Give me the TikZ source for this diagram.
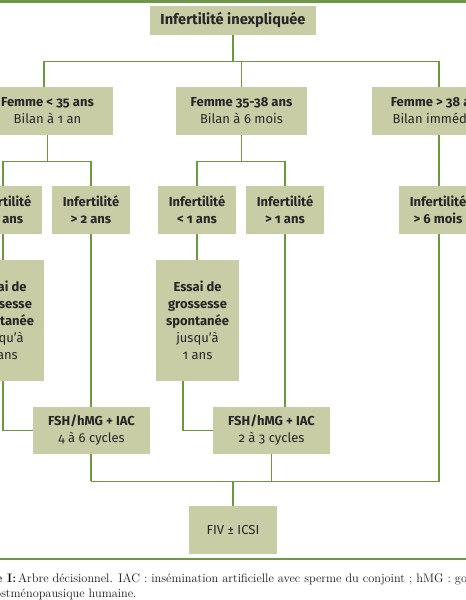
\documentclass[tikz,border=0pt]{standalone}
\usepackage{fontspec}
\setmainfont{Latin Modern Roman}
\newfontfamily\boxfont[Numbers=OldStyle]{Fira Sans}
\usetikzlibrary{calc}
\definecolor{boxfill}{RGB}{201,205,166}
\definecolor{linegreen}{RGB}{108,152,62}
\definecolor{rulegreen}{RGB}{112,150,72}
\tikzset{
  box/.style={fill=boxfill, draw=none, align=center, inner sep=0pt,
    font=\boxfont\fontsize{13}{17}\selectfont, text=black!85},
  boldbox/.style={box, font=\boxfont\fontsize{13}{17}\selectfont\bfseries},
  conn/.style={draw=linegreen, line width=1.3pt},
  rulestyle/.style={draw=rulegreen},
  captext/.style={anchor=base west, inner sep=0pt, font=\fontsize{12.3}{15}\selectfont, text=black!90},
}
\begin{document}
\begin{tikzpicture}[x=1pt,y=-1pt]
\useasboundingbox (0,0) rectangle (466,600);
\clip (0,0) rectangle (466,600);
\fill[white] (0,0) rectangle (466,600);
\draw[rulestyle, line width=2.6pt] (0,1.6) -- (466,1.6);
\draw[rulestyle, line width=1.6pt] (0,559) -- (466,559);
% nodes
\node[box, minimum width=166pt, minimum height=29pt, font=\boxfont\fontsize{14.6}{17}\selectfont\bfseries] (root) at (233,20.5) {Infertilité inexpliquée};
\node[box, minimum width=131pt, minimum height=48pt] (F1) at (47.5,111) {\textbf{Femme < 35 ans}\\Bilan à 1 an};
\node[box, minimum width=131pt, minimum height=48pt] (F2) at (241.5,111) {\textbf{Femme 35-38 ans}\\Bilan à 6 mois};
\node[box, minimum width=131pt, minimum height=48pt] (F3) at (437.5,111) {\textbf{Femme > 38 ans}\\Bilan immédiat};
\node[boldbox, minimum width=78pt, minimum height=48pt] (I1a) at (3,210) {Infertilité\\< 2 ans};
\node[boldbox, minimum width=78pt, minimum height=48pt] (I1b) at (91,210) {Infertilité\\> 2 ans};
\node[boldbox, minimum width=78pt, minimum height=48pt] (I2a) at (197,210) {Infertilité\\< 1 ans};
\node[boldbox, minimum width=78pt, minimum height=48pt] (I2b) at (285,210) {Infertilité\\> 1 ans};
\node[boldbox, minimum width=78pt, minimum height=48pt] (I3) at (438,210) {Infertilité\\> 6 mois};
\node[box, minimum width=83pt, minimum height=121pt] (E1) at (2.5,320.5) {\textbf{Essai de}\\\textbf{grossesse}\\\textbf{spontanée}\\jusqu’à\\2 ans};
\node[box, minimum width=83pt, minimum height=121pt] (E2) at (197.5,320.5) {\textbf{Essai de}\\\textbf{grossesse}\\\textbf{spontanée}\\jusqu’à\\1 ans};
\node[box, minimum width=117pt, minimum height=47pt] (S1) at (91.5,430.5) {\textbf{FSH/hMG + IAC}\\4 à 6 cycles};
\node[box, minimum width=117pt, minimum height=47pt] (S2) at (271.5,430.5) {\textbf{FSH/hMG + IAC}\\2 à 3 cycles};
\node[box, minimum width=88pt, minimum height=48pt] (FIV) at (233,530) {FIV ± ICSI};
% connectors
\draw[conn] (root.south) -- ++(0,26) coordinate (b0);
\draw[conn] ([xshift=-3.5pt]F1.north) |- (b0) -| ([xshift=1.5pt]F3.north);
\draw[conn] (F2.north) -- (F2.north |- b0);
\draw[conn] (F1.south) -- ++(0,26) coordinate (b1);
\draw[conn] (I1a.north) |- (b1) -| (I1b.north);
\draw[conn] (F2.south) -- ++(0,26) coordinate (b2);
\draw[conn] (I2a.north) |- (b2) -| (I2b.north);
\draw[conn] ([xshift=1.5pt]F3.south) -- ([xshift=1.5pt]F3.south |- I3.north);
\draw[conn] (I1a.south) -- (E1.north -| I1a.south);
\draw[conn] (I2a.south) -- (E2.north -| I2a.south);
\draw[conn] ([xshift=0.5pt]E1.south) |- (S1.west);
\draw[conn] ([xshift=-14.5pt]E2.south) |- (S2.west);
\draw[conn] (I1b.south) -- (I1b.south |- S1.north);
\draw[conn] (I2b.south) -- (I2b.south |- S2.north);
\draw[conn] ([xshift=-0.5pt]S1.south) -- ++(0,27) coordinate (b3);
\draw[conn] (S2.south) -- (S2.south |- b3);
\draw[conn] ([xshift=1pt]I3.south) |- (b3);
\draw[conn] (FIV.north) -- (FIV.north |- b3);
% caption
\node[captext] (cap1) at (18,582) {\llap{\textbf{Figure I:}\,}Arbre décisionnel. IAC : insémination artificielle avec sperme du conjoint ; hMG : gonadotrophine};
\node[captext] (cap2) at (-12,597) {postménopausique humaine.};
\end{tikzpicture}
\end{document}
